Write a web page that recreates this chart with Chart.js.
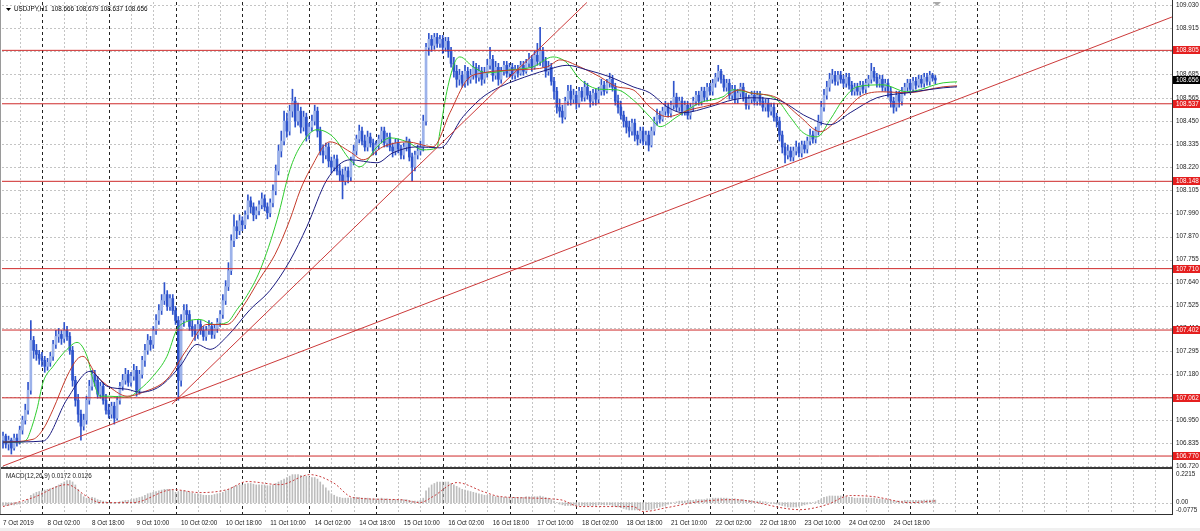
<!DOCTYPE html>
<html><head><meta charset="utf-8">
<script src="https://cdn.jsdelivr.net/npm/chart.js@4/dist/chart.umd.min.js"></script>
<style>
html,body{margin:0;padding:0;background:#fff;width:1200px;height:531px;overflow:hidden;}
#wrap{position:relative;width:1200px;height:531px;background:#fff;}
#cMain{position:absolute;left:0;top:0;}
#cMacd{position:absolute;left:0;top:468px;}
#strip{position:absolute;left:0;top:528px;width:1200px;height:3px;background:#f0f0f0;}
</style></head><body>
<div id="wrap"><canvas id="cMain" width="1200" height="531"></canvas><canvas id="cMacd" width="1200" height="63"></canvas><div id="strip"></div></div>
<script>
// ---------------- DATA ----------------
const symbolTitle = "USDJPY,H1  108.666 108.679 108.637 108.656";
const macdTitle = "MACD(12,26,9) 0.0172 0.0126";

const opens = [
106.85,106.87,106.83,106.85,106.81,106.86,106.84,106.90,106.95,107.00,107.10,107.35,
107.30,107.28,107.26,107.25,107.22,107.24,107.27,107.33,107.37,107.38,107.36,107.40,
107.37,107.30,107.15,107.05,106.98,106.92,106.95,107.05,107.12,107.18,107.15,107.08,
107.12,107.05,107.00,106.98,107.02,106.96,107.05,107.12,107.15,107.18,107.14,107.17,
107.20,107.10,107.18,107.25,107.30,107.35,107.33,107.40,107.45,107.50,107.55,107.58,
107.52,107.56,107.50,107.45,107.15,107.45,107.50,107.48,107.42,107.40,107.38,107.43,
107.40,107.37,107.40,107.42,107.38,107.41,107.44,107.48,107.55,107.62,107.70,107.85,
107.92,107.90,107.95,107.93,107.98,108.05,108.02,107.98,108.00,108.03,108.06,108.02,
107.99,108.04,108.10,108.20,108.30,108.35,108.45,108.40,108.50,108.55,108.45,108.50,
108.42,108.47,108.38,108.42,108.45,108.50,108.40,108.30,108.28,108.32,108.25,108.22,
108.26,108.20,108.18,108.15,108.20,108.17,108.25,108.30,108.36,108.40,108.35,108.32,
108.37,108.34,108.30,108.33,108.36,108.40,108.34,108.37,108.32,108.30,108.34,108.31,
108.28,108.32,108.35,108.27,108.22,108.28,108.30,108.32,108.45,108.82,108.86,108.83,
108.87,108.84,108.86,108.82,108.85,108.80,108.74,108.70,108.66,108.68,108.64,108.70,
108.66,108.68,108.72,108.67,108.70,108.66,108.69,108.73,108.76,108.68,108.72,108.66,
108.70,108.73,108.69,108.72,108.68,108.71,108.69,108.73,108.70,108.74,108.76,108.72,
108.78,108.75,108.80,108.75,108.70,108.72,108.65,108.60,108.52,108.50,108.47,108.55,
108.60,108.56,108.58,108.54,108.60,108.57,108.62,108.58,108.55,108.59,108.56,108.60,
108.63,108.60,108.64,108.66,108.62,108.55,108.52,108.48,108.45,108.42,108.40,108.44,
108.38,108.36,108.40,108.35,108.38,108.33,108.40,108.45,108.48,108.46,108.50,108.52,
108.49,108.53,108.57,108.52,108.55,108.50,108.53,108.48,108.52,108.55,108.58,108.55,
108.60,108.57,108.62,108.60,108.64,108.67,108.70,108.66,108.62,108.64,108.58,108.61,
108.56,108.59,108.62,108.57,108.53,108.56,108.58,108.55,108.58,108.55,108.52,108.54,
108.50,108.52,108.47,108.45,108.38,108.32,108.28,108.30,108.27,108.30,108.32,108.29,
108.33,108.31,108.35,108.38,108.36,108.40,108.45,108.52,108.58,108.62,108.66,108.68,
108.65,108.68,108.66,108.64,108.67,108.63,108.60,108.62,108.60,108.63,108.61,108.64,
108.66,108.70,108.67,108.64,108.66,108.62,108.64,108.60,108.55,108.52,108.58,108.55,
108.60,108.62,108.64,108.61,108.65,108.63,108.66,108.64,108.67,108.65,108.68,108.666];

const highs = [
106.89,106.88,106.87,106.86,106.88,106.88,106.92,106.97,107.03,107.14,107.45,107.37,
107.33,107.30,107.29,107.27,107.26,107.29,107.35,107.40,107.41,107.40,107.44,107.42,
107.39,107.32,107.17,107.08,107.00,106.98,107.07,107.15,107.20,107.20,107.17,107.14,
107.14,107.08,107.03,107.04,107.04,107.07,107.14,107.18,107.21,107.20,107.19,107.23,
107.22,107.20,107.27,107.33,107.38,107.37,107.42,107.48,107.53,107.58,107.64,107.60,
107.58,107.58,107.52,107.47,107.48,107.53,107.53,107.50,107.45,107.43,107.45,107.45,
107.42,107.42,107.45,107.44,107.43,107.46,107.50,107.58,107.65,107.74,107.88,107.98,
107.95,107.98,107.97,108.00,108.08,108.07,108.04,108.02,108.05,108.09,108.08,108.04,
108.06,108.13,108.23,108.33,108.40,108.50,108.49,108.53,108.61,108.57,108.54,108.52,
108.50,108.49,108.44,108.48,108.53,108.52,108.42,108.33,108.34,108.34,108.27,108.28,
108.28,108.23,108.21,108.22,108.22,108.27,108.33,108.38,108.43,108.42,108.38,108.40,
108.39,108.36,108.35,108.38,108.42,108.42,108.39,108.39,108.34,108.36,108.36,108.33,
108.34,108.37,108.36,108.29,108.30,108.33,108.35,108.48,108.84,108.89,108.88,108.89,
108.89,108.88,108.88,108.87,108.87,108.82,108.77,108.73,108.71,108.70,108.73,108.72,
108.71,108.75,108.74,108.73,108.72,108.72,108.76,108.82,108.78,108.75,108.74,108.72,
108.75,108.75,108.74,108.74,108.73,108.73,108.75,108.75,108.76,108.79,108.78,108.80,
108.84,108.92,108.82,108.77,108.75,108.74,108.67,108.62,108.56,108.53,108.57,108.63,
108.63,108.61,108.60,108.62,108.62,108.65,108.64,108.60,108.61,108.61,108.62,108.66,
108.65,108.66,108.69,108.68,108.64,108.58,108.55,108.50,108.47,108.45,108.46,108.46,
108.40,108.42,108.42,108.40,108.40,108.42,108.47,108.51,108.50,108.52,108.55,108.54,
108.55,108.65,108.59,108.57,108.57,108.55,108.55,108.54,108.57,108.60,108.60,108.62,
108.62,108.64,108.64,108.66,108.69,108.73,108.71,108.68,108.66,108.66,108.63,108.63,
108.61,108.64,108.64,108.59,108.58,108.60,108.60,108.60,108.60,108.57,108.56,108.56,
108.54,108.54,108.49,108.47,108.40,108.34,108.33,108.32,108.32,108.35,108.34,108.35,
108.35,108.37,108.41,108.40,108.42,108.48,108.55,108.61,108.65,108.69,108.71,108.70,
108.70,108.70,108.68,108.69,108.69,108.65,108.64,108.64,108.65,108.65,108.66,108.68,
108.74,108.72,108.69,108.68,108.68,108.66,108.66,108.62,108.57,108.60,108.60,108.62,
108.64,108.66,108.66,108.67,108.67,108.68,108.68,108.69,108.69,108.70,108.69,108.679];

const lows = [
106.81,106.81,106.80,106.78,106.80,106.82,106.83,106.88,106.93,106.98,107.08,107.26,
107.25,107.23,107.22,107.19,107.20,107.22,107.25,107.31,107.34,107.33,107.34,107.35,
107.28,107.12,107.02,106.94,106.85,106.90,106.93,107.03,107.10,107.12,107.06,107.06,
107.03,106.98,106.96,106.96,106.93,106.95,107.03,107.10,107.13,107.12,107.12,107.15,
107.07,107.08,107.16,107.22,107.28,107.30,107.31,107.38,107.43,107.48,107.53,107.50,
107.50,107.48,107.43,107.05,107.12,107.42,107.45,107.40,107.37,107.35,107.36,107.38,
107.35,107.35,107.38,107.36,107.36,107.39,107.42,107.46,107.53,107.60,107.68,107.82,
107.86,107.88,107.90,107.91,107.96,107.99,107.95,107.96,107.98,108.01,108.00,107.96,
107.97,108.02,108.08,108.18,108.27,108.33,108.37,108.38,108.47,108.42,108.43,108.39,
108.40,108.35,108.36,108.40,108.43,108.37,108.28,108.24,108.26,108.22,108.19,108.20,
108.18,108.15,108.06,108.13,108.14,108.15,108.23,108.28,108.34,108.33,108.30,108.30,
108.32,108.28,108.28,108.31,108.34,108.32,108.32,108.30,108.27,108.28,108.29,108.26,
108.26,108.30,108.25,108.15,108.20,108.26,108.28,108.30,108.43,108.78,108.80,108.81,
108.82,108.82,108.79,108.80,108.77,108.72,108.67,108.62,108.63,108.62,108.62,108.63,
108.64,108.66,108.64,108.65,108.63,108.64,108.67,108.71,108.65,108.66,108.63,108.64,
108.68,108.67,108.67,108.66,108.66,108.67,108.68,108.68,108.69,108.72,108.70,108.71,
108.73,108.73,108.72,108.67,108.68,108.63,108.56,108.49,108.47,108.44,108.46,108.53,
108.53,108.54,108.51,108.52,108.55,108.55,108.56,108.52,108.53,108.53,108.54,108.58,
108.58,108.59,108.62,108.60,108.53,108.49,108.46,108.42,108.39,108.37,108.38,108.35,
108.33,108.34,108.33,108.33,108.30,108.32,108.38,108.43,108.44,108.45,108.48,108.47,
108.47,108.51,108.50,108.50,108.48,108.48,108.46,108.46,108.50,108.53,108.53,108.53,
108.55,108.55,108.58,108.58,108.62,108.65,108.64,108.60,108.60,108.56,108.56,108.54,
108.54,108.57,108.55,108.51,108.51,108.54,108.53,108.53,108.53,108.50,108.50,108.47,
108.48,108.45,108.42,108.35,108.29,108.24,108.26,108.25,108.25,108.28,108.27,108.27,
108.29,108.29,108.33,108.34,108.34,108.38,108.43,108.50,108.56,108.60,108.64,108.63,
108.63,108.64,108.62,108.62,108.61,108.58,108.58,108.58,108.58,108.59,108.59,108.62,
108.64,108.65,108.62,108.62,108.60,108.60,108.57,108.52,108.49,108.50,108.52,108.53,
108.58,108.60,108.59,108.60,108.61,108.62,108.62,108.62,108.63,108.63,108.65,108.637];

const closes = [
106.87,106.83,106.85,106.81,106.86,106.84,106.90,106.95,107.00,107.10,107.35,107.30,
107.28,107.26,107.25,107.22,107.24,107.27,107.33,107.37,107.38,107.36,107.40,107.37,
107.30,107.15,107.05,106.98,106.92,106.95,107.05,107.12,107.18,107.15,107.08,107.12,
107.05,107.00,106.98,107.02,106.96,107.05,107.12,107.15,107.18,107.14,107.17,107.20,
107.10,107.18,107.25,107.30,107.35,107.33,107.40,107.45,107.50,107.55,107.58,107.52,
107.56,107.50,107.45,107.15,107.45,107.50,107.48,107.42,107.40,107.38,107.43,107.40,
107.37,107.40,107.42,107.38,107.41,107.44,107.48,107.55,107.62,107.70,107.85,107.92,
107.90,107.95,107.93,107.98,108.05,108.02,107.98,108.00,108.03,108.06,108.02,107.99,
108.04,108.10,108.20,108.30,108.35,108.45,108.40,108.50,108.55,108.45,108.50,108.42,
108.47,108.38,108.42,108.45,108.50,108.40,108.30,108.28,108.32,108.25,108.22,108.26,
108.20,108.18,108.15,108.20,108.17,108.25,108.30,108.36,108.40,108.35,108.32,108.37,
108.34,108.30,108.33,108.36,108.40,108.34,108.37,108.32,108.30,108.34,108.31,108.28,
108.32,108.35,108.27,108.22,108.28,108.30,108.32,108.45,108.82,108.86,108.83,108.87,
108.84,108.86,108.82,108.85,108.80,108.74,108.70,108.66,108.68,108.64,108.70,108.66,
108.68,108.72,108.67,108.70,108.66,108.69,108.73,108.76,108.68,108.72,108.66,108.70,
108.73,108.69,108.72,108.68,108.71,108.69,108.73,108.70,108.74,108.76,108.72,108.78,
108.75,108.80,108.75,108.70,108.72,108.65,108.60,108.52,108.50,108.47,108.55,108.60,
108.56,108.58,108.54,108.60,108.57,108.62,108.58,108.55,108.59,108.56,108.60,108.63,
108.60,108.64,108.66,108.62,108.55,108.52,108.48,108.45,108.42,108.40,108.44,108.38,
108.36,108.40,108.35,108.38,108.33,108.40,108.45,108.48,108.46,108.50,108.52,108.49,
108.53,108.57,108.52,108.55,108.50,108.53,108.48,108.52,108.55,108.58,108.55,108.60,
108.57,108.62,108.60,108.64,108.67,108.70,108.66,108.62,108.64,108.58,108.61,108.56,
108.59,108.62,108.57,108.53,108.56,108.58,108.55,108.58,108.55,108.52,108.54,108.50,
108.52,108.47,108.45,108.38,108.32,108.28,108.30,108.27,108.30,108.32,108.29,108.33,
108.31,108.35,108.38,108.36,108.40,108.45,108.52,108.58,108.62,108.66,108.68,108.65,
108.68,108.66,108.64,108.67,108.63,108.60,108.62,108.60,108.63,108.61,108.64,108.66,
108.70,108.67,108.64,108.66,108.62,108.64,108.60,108.55,108.52,108.58,108.55,108.60,
108.62,108.64,108.61,108.65,108.63,108.66,108.64,108.67,108.65,108.68,108.666,108.656];

// moving averages (bar index, price)
const maFastX = [0,6,8.6,9.7,12.2,14.4,18,23,26.6,30.2,32.3,34.9,38.4,44.6,49.2,53.9,58.9,62.5,66.1,70.8,75.5,80.5,84.1,87,92.3,98.5,103.1,106.7,112.8,118.6,124.7,128.3,134.4,139.1,145.2,150.9,155.9,157,159.5,162.4,164.2,168.9,173.9,182.2,190.4,197.6,202.7,207.3,214.5,220.6,226.4,232.4,236.1,242.2,250.4,258.7,262.3,268.4,278.1,282.8,287.5,292.5,297.2,301.8,306.9,316.2,324.8,337.8,342.8];
const maFastY = [106.84,106.84,106.854,106.889,107.004,107.14,107.22,107.305,107.34,107.27,107.155,107.07,107.07,107.065,107.105,107.17,107.27,107.405,107.445,107.455,107.43,107.44,107.505,107.56,107.7,107.956,108.206,108.321,108.407,108.371,108.256,108.221,108.321,108.366,108.346,108.306,108.316,108.397,108.6,108.747,108.772,108.722,108.692,108.707,108.722,108.772,108.742,108.66,108.61,108.607,108.557,108.472,108.422,108.472,108.542,108.572,108.607,108.592,108.557,108.472,108.392,108.371,108.457,108.557,108.622,108.632,108.597,108.642,108.647];
const maMidX = [0,10.8,14.4,18,23,26.6,28.7,33.8,38.4,44.6,50.3,58.9,66.1,73.3,80.5,86.2,92.3,97.7,103.1,106.7,110.3,117.5,124.7,129.4,136.5,145.2,154.5,160.6,166.7,172.5,184.7,195.5,200.1,207.3,214.5,220.6,226.4,232.4,238.6,246.9,256.6,264.8,268.4,278.1,286.4,293.6,300.8,307.9,316.2,324.8,337.8,342.8];
const maMidY = [106.84,106.854,106.904,107.004,107.17,107.255,107.27,107.17,107.115,107.07,107.09,107.155,107.305,107.43,107.43,107.52,107.66,107.78,107.956,108.1,108.206,108.346,108.296,108.256,108.321,108.346,108.321,108.492,108.657,108.692,108.707,108.722,108.757,108.722,108.672,108.622,108.607,108.522,108.472,108.507,108.542,108.607,108.592,108.567,108.472,108.397,108.472,108.572,108.597,108.592,108.622,108.627];
const maSlowX = [0,14.4,23,31.3,37.4,44.6,49.2,56.4,63.6,69.7,74.4,80.5,88.8,95.9,103.1,109.2,116.4,124.7,134.4,140.1,148.8,157,165.3,172.5,178.6,184.7,195.5,202.7,209.8,218.1,226.4,232.4,238.6,244.3,254,262.3,268.4,278.1,288.9,297.2,304.4,314,324.8,337.8,342.8];
const maSlowY = [106.84,106.845,107.055,107.195,107.12,107.105,107.09,107.12,107.22,107.33,107.305,107.37,107.505,107.6,107.75,107.921,108.156,108.256,108.241,108.291,108.321,108.316,108.472,108.572,108.622,108.657,108.707,108.73,108.707,108.672,108.622,108.592,108.522,108.492,108.522,108.557,108.567,108.557,108.472,108.432,108.492,108.567,108.592,108.617,108.622];

// horizontal levels, trend lines, last price
const levels = [108.805,108.537,108.148,107.710,107.402,107.062,106.770];
const lastPrice = 108.656;
const trendLongX = [0,420];
const trendLongY = [106.72,108.972];
const trendSteepX = [60.7,209.8];
const trendSteepY = [107.03,109.045];

// MACD main (histogram) per bar, signal points
const macdMain = [
-0.02,-0.02,-0.02,-0.015,-0.015,-0.01,-0.01,0.0,0.01,0.02,
0.05,0.06,0.07,0.075,0.08,0.085,0.09,0.095,0.10,0.11,
0.12,0.13,0.14,0.15,0.15,0.14,0.12,0.09,0.06,0.04,
0.03,0.03,0.035,0.03,0.02,0.015,0.01,0.005,0.0,0.0,
-0.005,0.0,0.005,0.01,0.015,0.015,0.02,0.025,0.03,0.035,
0.04,0.05,0.06,0.065,0.07,0.075,0.08,0.085,0.09,0.09,
0.09,0.085,0.07,0.075,0.08,0.08,0.075,0.07,0.065,0.06,
0.06,0.055,0.05,0.05,0.05,0.05,0.055,0.06,0.065,0.07,
0.08,0.09,0.1,0.11,0.115,0.12,0.12,0.125,0.13,0.13,
0.125,0.12,0.12,0.12,0.12,0.115,0.115,0.12,0.13,0.14,
0.15,0.16,0.17,0.18,0.19,0.19,0.19,0.185,0.18,0.18,
0.175,0.17,0.17,0.16,0.14,0.12,0.1,0.08,0.06,0.05,
0.04,0.035,0.03,0.03,0.03,0.03,0.035,0.035,0.035,0.03,
0.03,0.03,0.025,0.025,0.025,0.025,0.03,0.025,0.025,0.02,
0.02,0.02,0.02,0.02,0.02,0.02,0.015,0.01,0.01,0.01,
0.015,0.03,0.08,0.1,0.12,0.13,0.14,0.14,0.14,0.14,
0.14,0.13,0.12,0.11,0.1,0.09,0.085,0.08,0.075,0.07,
0.065,0.06,0.055,0.05,0.05,0.05,0.045,0.04,0.04,0.035,
0.035,0.035,0.035,0.035,0.035,0.035,0.035,0.035,0.04,0.04,
0.04,0.04,0.04,0.045,0.04,0.035,0.03,0.02,0.01,0.0,
-0.01,-0.015,-0.02,-0.02,-0.02,-0.02,-0.02,-0.02,-0.02,-0.02,
-0.02,-0.02,-0.02,-0.02,-0.015,-0.015,-0.015,-0.015,-0.015,-0.02,
-0.025,-0.03,-0.035,-0.04,-0.045,-0.05,-0.05,-0.05,-0.05,-0.05,
-0.05,-0.05,-0.05,-0.045,-0.04,-0.035,-0.03,-0.025,-0.02,-0.01,
-0.005,0.0,0.005,0.01,0.01,0.01,0.015,0.015,0.015,0.02,
0.02,0.02,0.02,0.025,0.025,0.03,0.03,0.03,0.03,0.03,
0.03,0.025,0.025,0.025,0.02,0.02,0.02,0.015,0.015,0.015,
0.01,0.01,0.01,0.005,0.005,0.0,0.0,-0.005,-0.01,-0.015,
-0.02,-0.025,-0.03,-0.03,-0.03,-0.03,-0.025,-0.02,-0.015,-0.01,
-0.005,0.0,0.005,0.015,0.025,0.035,0.04,0.045,0.045,0.045,
0.045,0.045,0.04,0.04,0.035,0.035,0.03,0.03,0.03,0.03,
0.03,0.03,0.03,0.03,0.025,0.025,0.025,0.02,0.02,0.015,
0.01,0.01,0.01,0.01,0.015,0.015,0.015,0.015,0.015,0.015,
0.015,0.017,0.017,0.017,0.017,0.0172];
const sigX = [0,10.8,23,30.2,34.9,46.7,61.1,70.8,80.5,87.7,99.5,110.3,118.6,125.8,142.6,149.8,154.5,163.1,172.5,178.6,200.1,207.3,226.4,230,238.6,250.4,262.3,286.4,296,304.4,312.6,325.9,335.6];
const sigY = [-0.027,0.034,0.122,0.041,0.0,0.0,0.088,0.068,0.088,0.143,0.122,0.19,0.136,0.034,0.02,0.0,0.041,0.136,0.075,0.041,0.02,-0.027,-0.027,-0.061,-0.034,0.007,0.02,-0.048,-0.014,0.048,0.041,0.0,0.0126];

// axis ticks
const yTicks = [109.030,108.915,108.800,108.685,108.565,108.450,108.335,108.220,108.105,107.990,107.870,107.755,107.640,107.525,107.410,107.295,107.180,107.065,106.950,106.835,106.720];
const xTickIdx = [0,16,32,48,64,80,96,112,128,144,160,176,192,208,224,240,256,272,288,304,320];
const xTickLabels = ["7 Oct 2019","8 Oct 02:00","8 Oct 18:00","9 Oct 10:00","10 Oct 02:00","10 Oct 18:00","11 Oct 10:00","14 Oct 02:00","14 Oct 18:00","15 Oct 10:00","16 Oct 02:00","16 Oct 18:00","17 Oct 10:00","18 Oct 02:00","18 Oct 18:00","21 Oct 10:00","22 Oct 02:00","22 Oct 18:00","23 Oct 10:00","24 Oct 02:00","24 Oct 18:00"];
const macdTickLabels = ["0.2215","0.00","-0.0775"];

// ---------------- STYLE ----------------
const FONT = '"Liberation Sans", Arial, sans-serif';
const FS = 6.3;
const X_MIN = -0.36, X_MAX = 420.04;
const Y_MIN = 106.715, Y_MAX = 109.0475;
const M_MIN = -0.0775, M_MAX = 0.2215;
const C_BULL = '#9cb2ea', C_BEAR = '#2f54cc', C_WICK = '#2f54cc';
const C_GRID = '#c4c4c4', C_SEP = '#222222', C_LEVEL = '#cf2a2a', C_TREND = '#cc3a3a';
const C_AXIS = '#303030';
const gridIdx = []; for (let i = 6; i <= 420; i += 8) gridIdx.push(i);
const sepIdx = []; for (let i = 14; i <= 350; i += 24) sepIdx.push(i);

Chart.defaults.font.family = FONT;
Chart.defaults.font.size = FS;

const idx = closes.map((_, i) => i);
const pts = (xs, ys) => xs.map((x, i) => ({x: x, y: ys[i]}));

function drawVGrid(ctx, a, x) {
  ctx.lineWidth = 1;
  ctx.strokeStyle = C_GRID; ctx.setLineDash([2, 2]);
  ctx.beginPath();
  for (const i of gridIdx) {
    if (sepIdx.includes(i)) continue;
    const px = Math.round(x.getPixelForValue(i)) + 0.5;
    if (px < a.left || px > a.right) continue;
    ctx.moveTo(px, a.top); ctx.lineTo(px, a.bottom);
  }
  ctx.stroke();
  ctx.strokeStyle = C_SEP; ctx.setLineDash([3, 3]);
  ctx.beginPath();
  for (const i of sepIdx) {
    const px = Math.round(x.getPixelForValue(i)) + 0.5;
    ctx.moveTo(px, a.top); ctx.lineTo(px, a.bottom);
  }
  ctx.stroke();
}

const mainGrid = {
  id: 'mainGrid',
  beforeDatasetsDraw(chart) {
    const {ctx, chartArea: a, scales: {x, y}} = chart;
    ctx.save();
    ctx.beginPath(); ctx.rect(a.left, a.top, a.right - a.left, a.bottom - a.top); ctx.clip();
    ctx.lineWidth = 1; ctx.strokeStyle = C_GRID; ctx.setLineDash([2, 2]);
    ctx.beginPath();
    for (const v of yTicks) {
      const py = Math.round(y.getPixelForValue(v)) + 0.5;
      ctx.moveTo(a.left, py); ctx.lineTo(a.right, py);
    }
    ctx.stroke();
    drawVGrid(ctx, a, x);
    ctx.restore();
  },
  afterDraw(chart) {
    const {ctx, chartArea: a, scales: {y}} = chart;
    ctx.save();
    ctx.fillStyle = C_AXIS;
    ctx.fillRect(a.right, 0, 1, 468);
    ctx.fillStyle = '#3a3a3a';
    ctx.fillRect(0, 467, a.right + 1, 2);
    ctx.fillStyle = '#9a9a9a';
    ctx.fillRect(0, 0, 1, 468);
    // chart shift marker
    ctx.fillStyle = '#a8a8a8';
    ctx.beginPath(); ctx.moveTo(933, 2); ctx.lineTo(941, 2); ctx.lineTo(937, 6); ctx.closePath(); ctx.fill();
    ctx.font = FS + 'px ' + FONT;
    ctx.textBaseline = 'middle';
    ctx.textAlign = 'left';
    for (const v of levels) {
      const py = Math.round(y.getPixelForValue(v));
      ctx.fillStyle = '#e51f1f';
      ctx.fillRect(a.right + 1, py - 4, 27, 8);
      ctx.fillStyle = '#ffffff';
      ctx.fillText(v.toFixed(3), a.right + 4, py + 0.5);
    }
    const pl = Math.round(y.getPixelForValue(lastPrice));
    ctx.fillStyle = '#000000';
    ctx.fillRect(a.right + 1, pl - 4, 27, 8);
    ctx.fillStyle = '#ffffff';
    ctx.fillText(lastPrice.toFixed(3), a.right + 4, pl + 0.5);
    // title
    ctx.fillStyle = '#000000';
    ctx.beginPath(); ctx.moveTo(6, 8); ctx.lineTo(11, 8); ctx.lineTo(8.5, 11); ctx.closePath(); ctx.fill();
    ctx.fillText(symbolTitle, 14, 9.5);
    ctx.restore();
  }
};

new Chart(document.getElementById('cMain'), {
  type: 'bar',
  data: {
    datasets: [
      ...levels.map(v => ({type: 'line', data: [{x: X_MIN, y: v}, {x: X_MAX, y: v}], borderColor: C_LEVEL, borderWidth: 1, pointRadius: 0, order: 1})),
      {type: 'line', data: pts(trendLongX, trendLongY), borderColor: C_TREND, borderWidth: 1, pointRadius: 0, order: 1},
      {type: 'line', data: pts(trendSteepX, trendSteepY), borderColor: C_TREND, borderWidth: 1, pointRadius: 0, order: 1},
      {type: 'line', data: pts(maSlowX, maSlowY), borderColor: '#1c1c80', borderWidth: 1, pointRadius: 0, cubicInterpolationMode: 'monotone', order: 3},
      {type: 'line', data: pts(maMidX, maMidY), borderColor: '#c43a2a', borderWidth: 1, pointRadius: 0, cubicInterpolationMode: 'monotone', order: 3},
      {type: 'line', data: pts(maFastX, maFastY), borderColor: '#2ecc2e', borderWidth: 1, pointRadius: 0, cubicInterpolationMode: 'monotone', order: 3},
      {type: 'bar', data: idx.map(i => ({x: i, y: [opens[i], closes[i]]})), backgroundColor: idx.map(i => closes[i] >= opens[i] ? C_BULL : C_BEAR), barThickness: 2, minBarLength: 1, grouped: false, order: 8},
      {type: 'bar', data: idx.map(i => ({x: i, y: [lows[i], highs[i]]})), backgroundColor: C_WICK, barThickness: 1, grouped: false, order: 9}
    ]
  },
  options: {
    responsive: false, animation: false, devicePixelRatio: 1, events: [],
    layout: {padding: {left: 2, top: 2, right: 0, bottom: 64}},
    plugins: {legend: {display: false}, tooltip: {enabled: false}, title: {display: false}},
    scales: {
      x: {type: 'linear', min: X_MIN, max: X_MAX, offset: false, display: false},
      y: {
        type: 'linear', position: 'right', min: Y_MIN, max: Y_MAX,
        afterFit: s => { s.width = 28; s.paddingTop = 0; s.paddingBottom = 0; },
        afterBuildTicks: s => { s.ticks = yTicks.map(v => ({value: v})); },
        grid: {display: false, drawTicks: false, tickLength: 0}, border: {display: false},
        ticks: {padding: 4, color: '#222', autoSkip: false, font: {family: FONT, size: FS}, callback: v => Number(v).toFixed(3)}
      }
    }
  },
  plugins: [mainGrid]
});

const macdPlug = {
  id: 'macdPlug',
  beforeDatasetsDraw(chart) {
    const {ctx, chartArea: a, scales: {x, y}} = chart;
    ctx.save();
    ctx.beginPath(); ctx.rect(a.left, a.top, a.right - a.left, a.bottom - a.top); ctx.clip();
    drawVGrid(ctx, a, x);
    ctx.strokeStyle = C_GRID; ctx.setLineDash([2, 2]); ctx.lineWidth = 1;
    const pz = Math.round(y.getPixelForValue(0)) + 0.5;
    ctx.beginPath(); ctx.moveTo(a.left, pz); ctx.lineTo(a.right, pz); ctx.stroke();
    ctx.restore();
  },
  afterDraw(chart) {
    const {ctx, chartArea: a, scales: {y}} = chart;
    ctx.save();
    ctx.fillStyle = C_AXIS;
    ctx.fillRect(a.right, 0, 1, a.bottom + 1);
    ctx.fillRect(0, a.bottom, a.right + 1, 1);
    ctx.fillStyle = '#9a9a9a';
    ctx.fillRect(0, 0, 1, a.bottom);
    ctx.font = FS + 'px ' + FONT;
    ctx.textBaseline = 'middle'; ctx.textAlign = 'left';
    ctx.fillStyle = '#222';
    ctx.fillText(macdTitle, 6, 8.5);
    const ly = [a.top + 4.5, y.getPixelForValue(0), a.bottom - 3.5];
    macdTickLabels.forEach((t, k) => ctx.fillText(t, a.right + 4, ly[k]));
    ctx.restore();
  }
};

new Chart(document.getElementById('cMacd'), {
  type: 'bar',
  data: {
    datasets: [
      {type: 'line', data: pts(sigX, sigY), borderColor: '#c83c3c', borderWidth: 1, borderDash: [2, 2], pointRadius: 0, cubicInterpolationMode: 'monotone', order: 1},
      {type: 'bar', data: idx.map(i => ({x: i, y: macdMain[i]})), backgroundColor: '#bdbdbd', barThickness: 1, grouped: false, order: 5}
    ]
  },
  options: {
    responsive: false, animation: false, devicePixelRatio: 1, events: [],
    layout: {padding: {left: 2, top: 2, right: 28, bottom: 0}},
    plugins: {legend: {display: false}, tooltip: {enabled: false}},
    scales: {
      x: {
        type: 'linear', min: X_MIN, max: X_MAX, offset: false,
        afterFit: s => { s.height = 17; s.paddingLeft = 0; s.paddingRight = 0; },
        afterBuildTicks: s => { s.ticks = xTickIdx.map(v => ({value: v})); },
        grid: {display: false, drawTicks: false, tickLength: 0}, border: {display: false},
        ticks: {align: 'start', padding: 5, maxRotation: 0, minRotation: 0, autoSkip: false, color: '#222', font: {family: FONT, size: FS},
          callback: (v, k) => xTickLabels[k]}
      },
      y: {type: 'linear', min: M_MIN, max: M_MAX, display: false}
    }
  },
  plugins: [macdPlug]
});
</script>
</body></html>
